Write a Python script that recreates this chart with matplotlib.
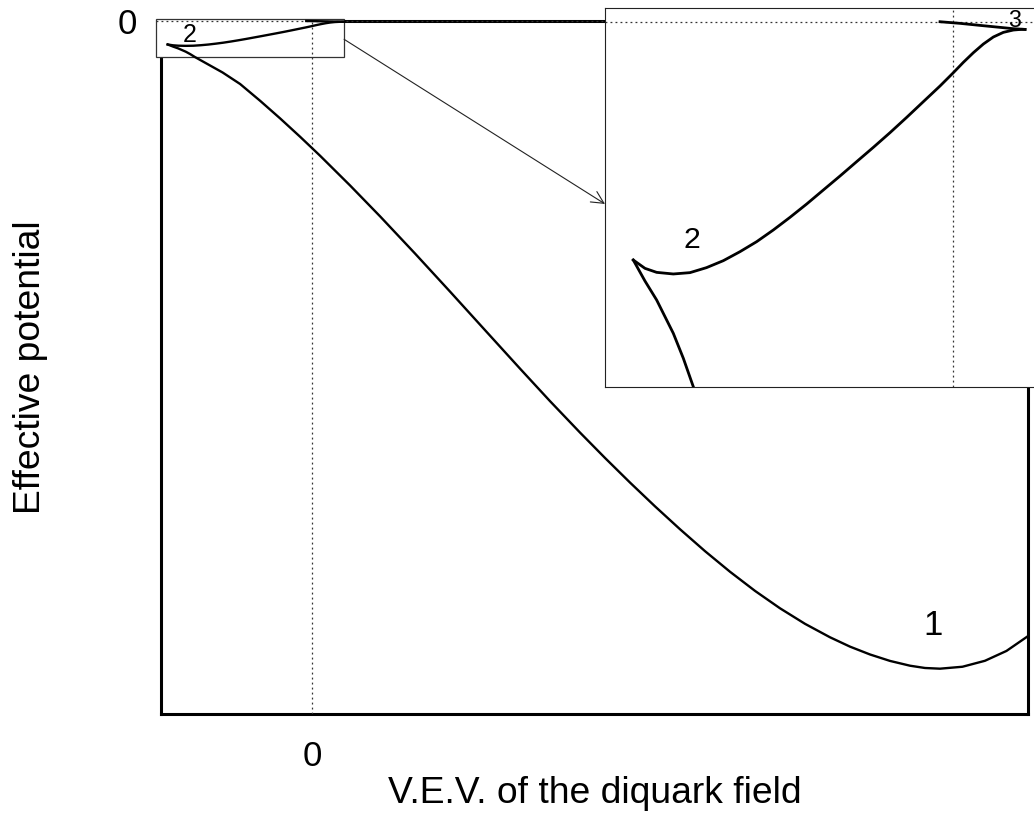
import matplotlib
matplotlib.use("Agg")
import matplotlib.pyplot as plt
from matplotlib.patches import Rectangle, ConnectionPatch

plt.rcParams['font.family'] = ['Liberation Sans', 'DejaVu Sans']

x1 = [-0.9444, -0.9099, -0.8754, -0.8262, -0.7966, -0.7672,
      -0.5850, -0.4706, -0.3399, -0.2092, -0.0784, 0.0523, 0.2484, 0.4444,
      0.6732, 0.9020, 1.1307, 1.3595, 1.5556, 1.7516, 1.9150, 2.0784,
      2.2418, 2.4052, 2.5686, 2.7320, 2.8954, 3.0588, 3.2222, 3.3856,
      3.5163, 3.6471, 3.7778, 3.9085, 4.0065, 4.1046, 4.2516, 4.3987,
      4.5392, 4.6800]
y1 = [-0.03386, -0.03684, -0.03954, -0.04427, -0.04782, -0.05185,
      -0.0743, -0.0909, -0.1151, -0.1405, -0.1670, -0.1944, -0.2373, -0.2818,
      -0.3355, -0.3904, -0.4460, -0.5015, -0.5484, -0.5937, -0.6303, -0.6658,
      -0.7001, -0.7331, -0.7647, -0.7944, -0.8220, -0.8471, -0.8695, -0.8889,
      -0.9024, -0.9137, -0.9230, -0.9299, -0.9332, -0.9342, -0.9314, -0.9228,
      -0.9086, -0.8872]

# branch 2: the small upper branch
x2 = [-0.9444, -0.9099, -0.8754, -0.8262, -0.7770, -0.7282, -0.6785, -0.6292,
      -0.5800, -0.5308, -0.4815, -0.4323, -0.3831, -0.3338, -0.2846, -0.2354,
      -0.1861, -0.1369, -0.0877, -0.0384, 0.0010, 0.0305, 0.0601, 0.0896,
      0.1191, 0.1487, 0.1782, 0.2029, 0.2127]
y2 = [-0.03386, -0.03504, -0.03561, -0.03584, -0.03565, -0.03494, -0.03395,
      -0.03267, -0.03125, -0.02959, -0.02779, -0.02590, -0.02391, -0.02192,
      -0.01988, -0.01785, -0.01576, -0.01359, -0.01136, -0.00913, -0.00724,
      -0.00577, -0.00440, -0.00317, -0.00217, -0.00151, -0.00118, -0.00108,
      -0.00109]

# branch 3: tiny piece near zero
x3 = [-0.0384, 0.0207, 0.0798, 0.1388, 0.1782, 0.2127]
y3 = [0.0, -0.00023, -0.00052, -0.00080, -0.00099, -0.00109]

fig = plt.figure(figsize=(10.34, 8.17), dpi=100)
ax = fig.add_axes([0.1554, 0.1257, 0.8388, 0.8486])
ax.set_xlim(-0.99, 4.68)
ax.set_ylim(-1.0, 0.0)

dots = (0, (1.5, 2.5))
ax.axvline(0, color='#333333', lw=0.9, ls=dots, zorder=2.7)
ax.hlines(0, -1.022, 4.68, color='#333333', lw=0.9, ls=dots, zorder=2.7,
          clip_on=False)

for xs, ys in [(x1, y1), (x2, y2), (x3, y3)]:
    ax.plot(xs, ys, color='black', lw=1.7, zorder=3, clip_on=False)

# box marking the zoomed region
ax.add_patch(Rectangle((-1.022, -0.0519), 1.231, 0.0552, facecolor='white',
                       edgecolor='#333333', lw=0.9, zorder=2.6, clip_on=False))

ax.text(4.059, -0.8856, '1', fontsize=25, ha='center', va='baseline')
ax.text(-0.802, -0.0299, '2', fontsize=18, ha='center', va='baseline', zorder=3)

for s in ax.spines.values():
    s.set_linewidth(2.2)
ax.set_xticks([0])
ax.set_yticks([0])
ax.set_xticklabels(['0'])
ax.set_yticklabels(['0'])
ax.tick_params(length=0, labelsize=25)
ax.tick_params(axis='x', pad=18.5)
ax.tick_params(axis='y', pad=17)

ax.set_xlabel('V.E.V. of the diquark field', fontsize=26.8, va='baseline')
ax.xaxis.set_label_coords(0.5, -0.128)
ax.set_ylabel('Effective potential', fontsize=26.8)
ax.yaxis.set_label_coords(-0.130, 0.5)

# zoomed inset
ins = fig.add_axes([0.5851, 0.5263, 0.4168, 0.4639], zorder=5)
ins.set_xlim(-1.028, 0.245)
ins.set_ylim(-0.0519, 0.00195)
ins.axvline(0, color='#333333', lw=0.9, ls=dots)
ins.axhline(0, color='#333333', lw=0.9, ls=dots)
for xs, ys in [(x1, y1), (x2, y2), (x3, y3)]:
    ins.plot(xs, ys, color='black', lw=2.0)
ins.text(-0.772, -0.0322, '2', fontsize=21.8, ha='center', va='baseline')
ins.text(0.183, -0.00071, '3', fontsize=16.8, ha='center', va='baseline')
ins.set_xticks([])
ins.set_yticks([])
for s in ins.spines.values():
    s.set_linewidth(0.8)
    s.set_color('#222222')

arrow = ConnectionPatch(xyA=(0.209, -0.0264), coordsA=ax.transData,
                        xyB=(0.0, 0.483), coordsB=ins.transAxes,
                        arrowstyle='->', mutation_scale=22, lw=0.8,
                        color='#222222', zorder=10)
fig.add_artist(arrow)

fig.savefig('out.png', dpi=100)
